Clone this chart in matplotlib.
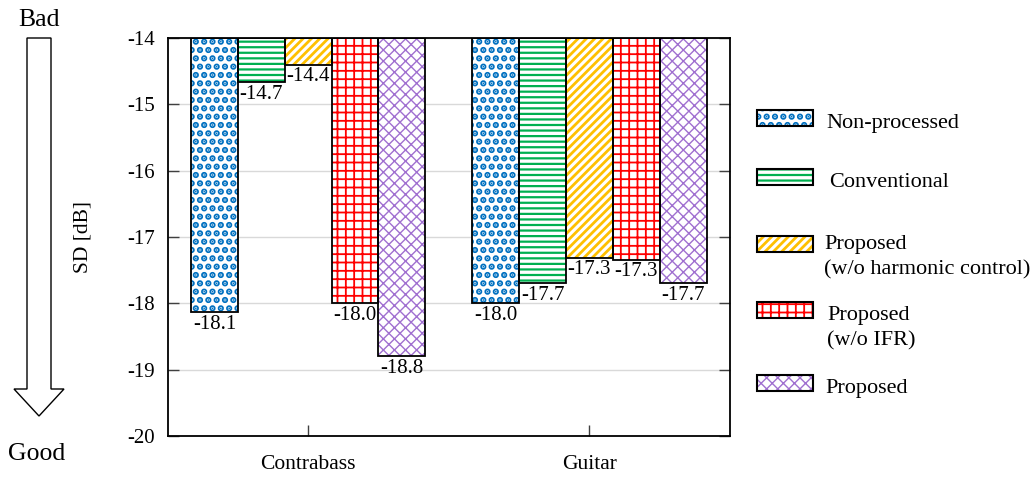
import matplotlib
matplotlib.use('Agg')
import matplotlib.pyplot as plt
import numpy as np
from matplotlib.patches import Rectangle, FancyArrow

plt.rcParams['font.family'] = ['Liberation Serif', 'DejaVu Serif']
plt.rcParams['axes.unicode_minus'] = False

categories = ['Contrabass', 'Guitar']
series = ['Non-processed', 'Conventional', 'Proposed\n(w/o harmonic control)',
          'Proposed\n(w/o IFR)', 'Proposed']
contrabass = [-18.13, -14.66, -14.40, -18.00, -18.80]
guitar = [-18.00, -17.70, -17.31, -17.34, -17.69]
yticks = [-20, -19, -18, -17, -16, -15, -14]

colors = ['#0070C0', '#00B050', '#FFC000', '#FF0000', '#A070D0']
hatches = ['..', '---', '////', '++', 'xxx']
hatch_lw = [3.2, 1.6, 2.0, 1.3, 1.0]

values = np.array([contrabass, guitar]).T  # rows = series
base = -14
w = 1 / 6

fig = plt.figure(figsize=(10.32, 4.8), dpi=100)
ax = fig.add_axes([167.5 / 1032, 1 - 436 / 480, (730 - 167.5) / 1032, (436 - 38) / 480])

pos = np.arange(len(categories))
for i, name in enumerate(series):
    x = pos + (i - 2) * w
    with plt.rc_context({'hatch.linewidth': hatch_lw[i]}):
        ax.bar(x, values[i] - base, bottom=base, width=w, color='white',
               edgecolor=colors[i], hatch=hatches[i], linewidth=0, zorder=2)
    ax.bar(x, values[i] - base, bottom=base, width=w, fill=False,
           edgecolor='black', linewidth=1.3, zorder=3)
    for xx, v in zip(x, values[i]):
        ax.annotate(f'{v:.1f}', (xx, v), xytext=(0, -2), textcoords='offset points',
                    ha='center', va='top', fontsize=15)

ax.set_xlim(-0.5, 1.5)
ax.set_ylim(-20, -14)
ax.set_yticks(yticks)
ax.set_yticklabels([str(t) for t in yticks])
ax.set_xticks(pos)
ax.set_xticklabels(categories)
ax.tick_params(axis='y', direction='in', length=8, width=1, labelsize=15, pad=9,
               right=True, color='#404040')
ax.tick_params(axis='x', direction='in', length=8, width=1, labelsize=15.5, pad=14,
               color='#404040')
ax.grid(axis='y', color='#D9D9D9', linewidth=1, zorder=0)
ax.set_axisbelow(True)
for s in ax.spines.values():
    s.set_linewidth(1.3)
ax.set_ylabel('SD [dB]', fontsize=15.5)
ax.yaxis.set_label_coords(-0.134, 0.5)

# Bad / Good arrow
arr = fig.add_axes([0, 0, 160 / 1032, 1])
arr.set_xlim(0, 160)
arr.set_ylim(480, 0)
arr.axis('off')
arr.add_patch(FancyArrow(39, 38, 0, 378, width=24, head_width=50, head_length=27,
                         length_includes_head=True, facecolor='white',
                         edgecolor='black', linewidth=1))
arr.text(39, 20, 'Bad', ha='center', va='center', fontsize=18.5)
arr.text(37, 454, 'Good', ha='center', va='center', fontsize=18.5)

# legend (pixel layout)
handle_y = [118, 177, 244, 310, 383]
first_base = [128, 187, 249, 320, 393]
text_x = [826, 829, 824, 827, 825]
line_gap = 25
for i, name in enumerate(series):
    y = 1 - handle_y[i] / 480
    with plt.rc_context({'hatch.linewidth': hatch_lw[i]}):
        fig.add_artist(Rectangle((757 / 1032, y - 8 / 480), 56 / 1032, 16 / 480,
                                 transform=fig.transFigure, facecolor='white',
                                 edgecolor=colors[i], hatch=hatches[i], linewidth=0))
    fig.add_artist(Rectangle((757 / 1032, y - 8 / 480), 56 / 1032, 16 / 480,
                             transform=fig.transFigure, fill=False,
                             edgecolor='black', linewidth=1.5))
    for j, line in enumerate(name.split('\n')):
        fig.text(text_x[i] / 1032, 1 - (first_base[i] + j * line_gap) / 480, line,
                 ha='left', va='baseline', fontsize=16)

fig.savefig('out.png', dpi=100)
